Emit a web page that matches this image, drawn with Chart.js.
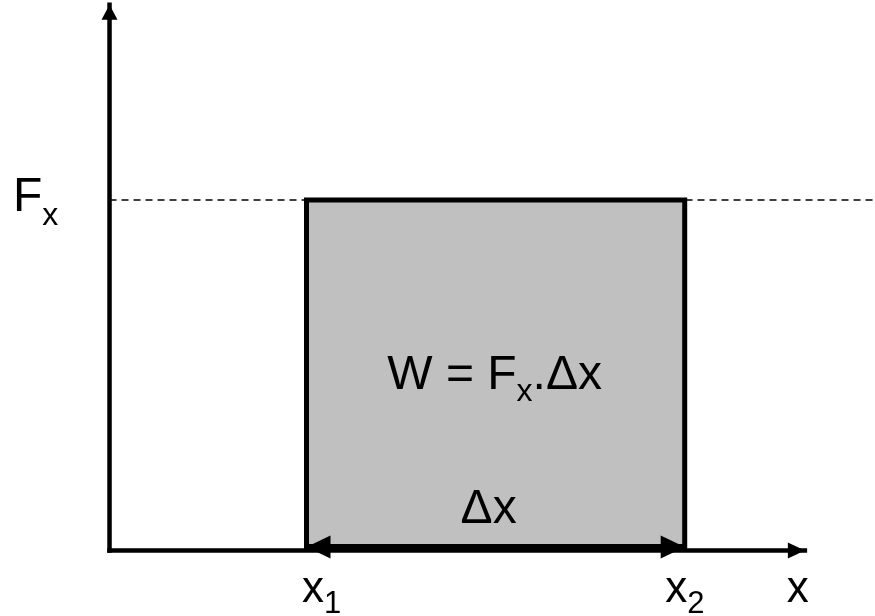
<!DOCTYPE html>
<html><head><meta charset="utf-8">
<script src="https://cdn.jsdelivr.net/npm/chart.js@4/dist/chart.umd.min.js"></script>
<style>html,body{margin:0;padding:0;background:#fff;overflow:hidden}canvas{display:block}</style>
</head><body>
<canvas id="c" width="875" height="616"></canvas>
<script>
// ---- data (diagram units) ----
const X1 = 2.0;            // start of displacement
const X2 = 5.84;           // end of displacement
const FX = 3.5;            // constant force
const X_AXIS_END = 7.06;   // tip of x axis arrow
const Y_AXIS_END = 5.45;   // tip of y axis arrow
const DX_ARROW_Y = 0.035;  // level of the Δx arrow
const X_RANGE = [-1.112, 7.772];
const Y_RANGE = [-0.654, 5.497];

const rectXs = [X1, X1, X2, X2];
const rectYs = [0, FX, FX, 0];
const dashXs = [0, X_RANGE[1]];
const dashYs = [FX, FX];
const xAxisXs = [0, X_AXIS_END];
const xAxisYs = [0, 0];
const yAxisXs = [0, 0];
const yAxisYs = [0, Y_AXIS_END];
const dxXs = [X1, X2];
const dxYs = [DX_ARROW_Y, DX_ARROW_Y];

const pts = (xs, ys) => xs.map((x, i) => ({x, y: ys[i]}));

const FONT = '"Liberation Sans", Arial, sans-serif';

const arrowPlugin = {
  id: 'arrowHeads',
  afterDatasetsDraw(chart) {
    const ctx = chart.ctx;
    chart.data.datasets.forEach((ds, i) => {
      if (!ds.arrows) return;
      const p = chart.getDatasetMeta(i).data;
      const draw = (tip, from, spec) => {
        const ang = Math.atan2(tip.y - from.y, tip.x - from.x);
        ctx.save();
        ctx.translate(tip.x, tip.y);
        ctx.rotate(ang);
        ctx.beginPath();
        ctx.moveTo(0, 0);
        ctx.lineTo(-spec.len, -spec.width / 2);
        ctx.lineTo(-spec.len, spec.width / 2);
        ctx.closePath();
        ctx.fillStyle = ds.borderColor;
        ctx.fill();
        ctx.restore();
      };
      if (ds.arrows.end) draw(p[p.length - 1], p[p.length - 2], ds.arrows.end);
      if (ds.arrows.start) draw(p[0], p[1], ds.arrows.start);
    });
  }
};

function drawSub(ctx, parts, x, y, align) {
  // parts: [text, size, dy]
  let total = 0;
  parts.forEach(([t, s]) => { ctx.font = s + 'px ' + FONT; total += ctx.measureText(t).width; });
  let cx = align === 'center' ? x - total / 2 : x;
  parts.forEach(([t, s, dy]) => {
    ctx.font = s + 'px ' + FONT;
    ctx.fillText(t, cx, y + dy);
    cx += ctx.measureText(t).width;
  });
}

const textPlugin = {
  id: 'texts',
  afterDraw(chart) {
    const ctx = chart.ctx;
    const xs = chart.scales.x, ys = chart.scales.y;
    const X = v => xs.getPixelForValue(v), Y = v => ys.getPixelForValue(v);
    ctx.save();
    ctx.fillStyle = '#000';
    ctx.textBaseline = 'alphabetic';
    ctx.textAlign = 'left';
    // F_x on the y axis
    drawSub(ctx, [['F', 48, 0], ['x', 32, 14]], X(0) - 96.5, Y(FX) + 11.5, 'left');
    // W = F_x.Δx in the middle of the rectangle
    const mid = (X(X1) + X(X2)) / 2;
    drawSub(ctx, [['W = F', 48, 0], ['x', 32, 12], ['.Δx', 48, 0]], mid - 1, (Y(0) + Y(FX)) / 2 + 14, 'center');
    // Δx above the arrow
    drawSub(ctx, [['Δx', 48, 0]], mid - 7, Y(0) - 27.5, 'center');
    // x1, x2, x labels
    drawSub(ctx, [['x', 44, 0], ['1', 31, 11]], X(X1) - 4.5, Y(0) + 51.5, 'left');
    drawSub(ctx, [['x', 44, 0], ['2', 31, 11]], X(X2) - 19.5, Y(0) + 51.5, 'left');
    drawSub(ctx, [['x', 44, 0]], X(X_AXIS_END) - 18, Y(0) + 51.5, 'left');
    ctx.restore();
  }
};

const base = {pointRadius: 0, pointHoverRadius: 0, tension: 0, borderColor: '#000', fill: false};

new Chart(document.getElementById('c'), {
  type: 'line',
  data: {
    datasets: [
      Object.assign({}, base, {label: 'dx', data: pts(dxXs, dxYs), borderWidth: 6, borderCapStyle: 'butt', order: 1,
        arrows: {start: {len: 24, width: 23}, end: {len: 24, width: 23}}}),
      Object.assign({}, base, {label: 'xaxis', data: pts(xAxisXs, xAxisYs), borderWidth: 4.5, borderCapStyle: 'square', order: 2,
        arrows: {end: {len: 17, width: 16}}}),
      Object.assign({}, base, {label: 'yaxis', data: pts(yAxisXs, yAxisYs), borderWidth: 4.5, borderCapStyle: 'square', order: 2,
        arrows: {end: {len: 15, width: 16}}}),
      Object.assign({}, base, {label: 'rect', data: pts(rectXs, rectYs), borderWidth: 5, borderJoinStyle: 'miter',
        backgroundColor: '#c0c0c0', fill: 'origin', order: 4}),
      Object.assign({}, base, {label: 'dash', data: pts(dashXs, dashYs), borderWidth: 1.6, borderDash: [7, 5], order: 5})
    ]
  },
  options: {
    responsive: false,
    animation: false,
    devicePixelRatio: 1,
    layout: {padding: 0},
    events: [],
    plugins: {legend: {display: false}, tooltip: {enabled: false}, title: {display: false}},
    scales: {
      x: {type: 'linear', display: false, min: X_RANGE[0], max: X_RANGE[1]},
      y: {type: 'linear', display: false, min: Y_RANGE[0], max: Y_RANGE[1]}
    }
  },
  plugins: [arrowPlugin, textPlugin]
});
</script>
</body></html>
